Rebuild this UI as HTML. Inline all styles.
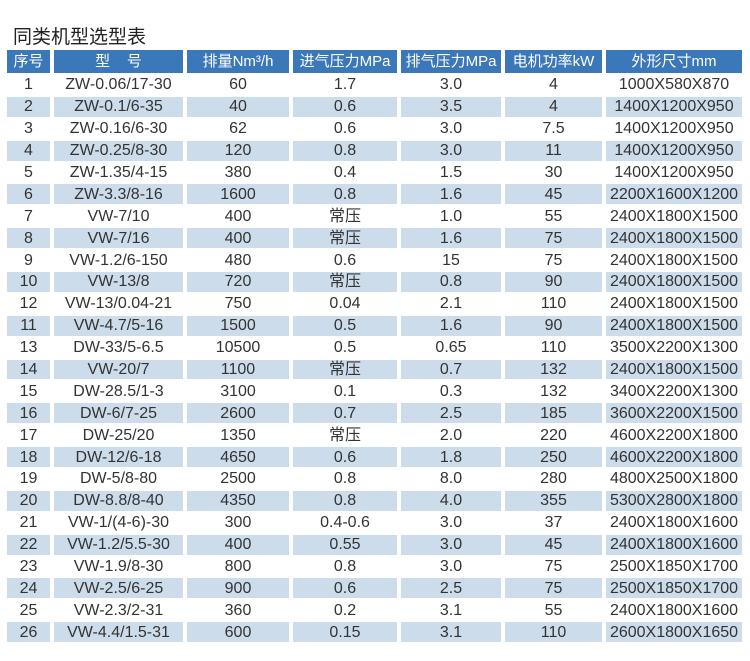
<!DOCTYPE html>
<html><head><meta charset="utf-8"><style>
body{margin:0;width:750px;height:661px;background:#fff;overflow:hidden;font-family:"Liberation Sans","Noto Sans CJK SC",sans-serif;}
.t{position:absolute;left:13px;top:22px;font-size:19px;color:#222;}
table{position:absolute;left:3px;top:48px;border-collapse:separate;border-spacing:4px 2px;table-layout:fixed;}
td{padding:0;text-align:center;font-size:16px;color:#333;height:19.9px;line-height:19px;white-space:nowrap;overflow:hidden;}
tr.h td{background:#3b78b9;color:#fff;height:23px;font-size:15px;}
tr:nth-child(odd):not(.h) td{background:#cddcea;}
</style></head><body>
<div class="t">同类机型选型表</div>
<table>
<colgroup><col style="width:43px"><col style="width:129px"><col style="width:102px"><col style="width:104px"><col style="width:100px"><col style="width:97px"><col style="width:136px"></colgroup>
<tr class="h"><td>序号</td><td>型&nbsp;&nbsp;&nbsp;&nbsp;号</td><td>排量Nm³/h</td><td>进气压力MPa</td><td>排气压力MPa</td><td>电机功率kW</td><td>外形尺寸mm</td></tr>
<tr><td>1</td><td>ZW-0.06/17-30</td><td>60</td><td>1.7</td><td>3.0</td><td>4</td><td>1000X580X870</td></tr>
<tr><td>2</td><td>ZW-0.1/6-35</td><td>40</td><td>0.6</td><td>3.5</td><td>4</td><td>1400X1200X950</td></tr>
<tr><td>3</td><td>ZW-0.16/6-30</td><td>62</td><td>0.6</td><td>3.0</td><td>7.5</td><td>1400X1200X950</td></tr>
<tr><td>4</td><td>ZW-0.25/8-30</td><td>120</td><td>0.8</td><td>3.0</td><td>11</td><td>1400X1200X950</td></tr>
<tr><td>5</td><td>ZW-1.35/4-15</td><td>380</td><td>0.4</td><td>1.5</td><td>30</td><td>1400X1200X950</td></tr>
<tr><td>6</td><td>ZW-3.3/8-16</td><td>1600</td><td>0.8</td><td>1.6</td><td>45</td><td>2200X1600X1200</td></tr>
<tr><td>7</td><td>VW-7/10</td><td>400</td><td>常压</td><td>1.0</td><td>55</td><td>2400X1800X1500</td></tr>
<tr><td>8</td><td>VW-7/16</td><td>400</td><td>常压</td><td>1.6</td><td>75</td><td>2400X1800X1500</td></tr>
<tr><td>9</td><td>VW-1.2/6-150</td><td>480</td><td>0.6</td><td>15</td><td>75</td><td>2400X1800X1500</td></tr>
<tr><td>10</td><td>VW-13/8</td><td>720</td><td>常压</td><td>0.8</td><td>90</td><td>2400X1800X1500</td></tr>
<tr><td>12</td><td>VW-13/0.04-21</td><td>750</td><td>0.04</td><td>2.1</td><td>110</td><td>2400X1800X1500</td></tr>
<tr><td>11</td><td>VW-4.7/5-16</td><td>1500</td><td>0.5</td><td>1.6</td><td>90</td><td>2400X1800X1500</td></tr>
<tr><td>13</td><td>DW-33/5-6.5</td><td>10500</td><td>0.5</td><td>0.65</td><td>110</td><td>3500X2200X1300</td></tr>
<tr><td>14</td><td>VW-20/7</td><td>1100</td><td>常压</td><td>0.7</td><td>132</td><td>2400X1800X1500</td></tr>
<tr><td>15</td><td>DW-28.5/1-3</td><td>3100</td><td>0.1</td><td>0.3</td><td>132</td><td>3400X2200X1300</td></tr>
<tr><td>16</td><td>DW-6/7-25</td><td>2600</td><td>0.7</td><td>2.5</td><td>185</td><td>3600X2200X1500</td></tr>
<tr><td>17</td><td>DW-25/20</td><td>1350</td><td>常压</td><td>2.0</td><td>220</td><td>4600X2200X1800</td></tr>
<tr><td>18</td><td>DW-12/6-18</td><td>4650</td><td>0.6</td><td>1.8</td><td>250</td><td>4600X2200X1800</td></tr>
<tr><td>19</td><td>DW-5/8-80</td><td>2500</td><td>0.8</td><td>8.0</td><td>280</td><td>4800X2500X1800</td></tr>
<tr><td>20</td><td>DW-8.8/8-40</td><td>4350</td><td>0.8</td><td>4.0</td><td>355</td><td>5300X2800X1800</td></tr>
<tr><td>21</td><td>VW-1/(4-6)-30</td><td>300</td><td>0.4-0.6</td><td>3.0</td><td>37</td><td>2400X1800X1600</td></tr>
<tr><td>22</td><td>VW-1.2/5.5-30</td><td>400</td><td>0.55</td><td>3.0</td><td>45</td><td>2400X1800X1600</td></tr>
<tr><td>23</td><td>VW-1.9/8-30</td><td>800</td><td>0.8</td><td>3.0</td><td>75</td><td>2500X1850X1700</td></tr>
<tr><td>24</td><td>VW-2.5/6-25</td><td>900</td><td>0.6</td><td>2.5</td><td>75</td><td>2500X1850X1700</td></tr>
<tr><td>25</td><td>VW-2.3/2-31</td><td>360</td><td>0.2</td><td>3.1</td><td>55</td><td>2400X1800X1600</td></tr>
<tr><td>26</td><td>VW-4.4/1.5-31</td><td>600</td><td>0.15</td><td>3.1</td><td>110</td><td>2600X1800X1650</td></tr>
</table>
</body></html>
